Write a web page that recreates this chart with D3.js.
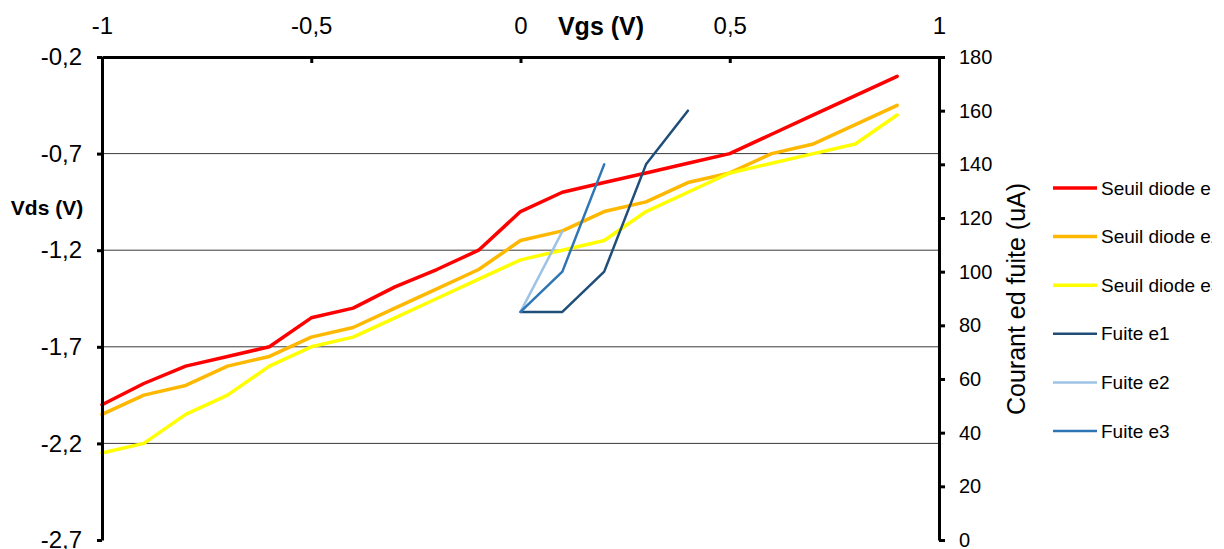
<!DOCTYPE html>
<html>
<head>
<meta charset="utf-8">
<script src="https://cdn.jsdelivr.net/npm/d3@7"></script>
<style>
  html, body { margin: 0; padding: 0; background: #fff; }
  svg { display: block; font-family: Arial, "Liberation Sans", sans-serif; }
</style>
</head>
<body>
<svg id="chart" width="1224" height="549"></svg>
<script>
// ---------- data ----------
const vgs = [-1, -0.9, -0.8, -0.7, -0.6, -0.5, -0.4, -0.3, -0.2, -0.1, 0, 0.1, 0.2, 0.3, 0.4, 0.5, 0.6, 0.7, 0.8, 0.9];
const seuilE1 = [-2.0, -1.89, -1.8, -1.75, -1.7, -1.55, -1.5, -1.39, -1.3, -1.2, -1.0, -0.9, -0.85, -0.8, -0.75, -0.7, -0.6, -0.5, -0.4, -0.3];
const seuilE2 = [-2.05, -1.95, -1.9, -1.8, -1.75, -1.65, -1.6, -1.5, -1.4, -1.3, -1.15, -1.1, -1.0, -0.95, -0.85, -0.8, -0.7, -0.65, -0.55, -0.45];
const seuilE3 = [-2.25, -2.2, -2.05, -1.95, -1.8, -1.7, -1.65, -1.55, -1.45, -1.35, -1.25, -1.2, -1.15, -1.0, -0.9, -0.8, -0.75, -0.7, -0.65, -0.5];
const fuiteX1 = [0, 0.1, 0.2, 0.3, 0.4];
const fuiteE1 = [85, 85, 100, 140, 160];
const fuiteX2 = [0, 0.1];
const fuiteE2 = [85, 115];
const fuiteX3 = [0, 0.1, 0.2];
const fuiteE3 = [85, 100, 140];
const xTicks = [-1, -0.5, 0, 0.5, 1];
const yLeftTicks = [-2.7, -2.2, -1.7, -1.2, -0.7, -0.2];
const yLeftGrid = [-2.2, -1.7, -1.2, -0.7];
const yRightTicks = [0, 20, 40, 60, 80, 100, 120, 140, 160, 180];
const seriesNames = ["Seuil diode e1", "Seuil diode e2", "Seuil diode e3", "Fuite e1", "Fuite e2", "Fuite e3"];
const seriesColors = ["#FF0000", "#FFB800", "#FFFF00", "#1F4E79", "#9DC3E6", "#2E75B6"];

// ---------- layout ----------
const svg = d3.select("#chart");
const L = 102, R = 939, T = 57, B = 540;
const x = d3.scaleLinear().domain([-1, 1]).range([L, R]);
const yL = d3.scaleLinear().domain([-2.7, -0.2]).range([B, T]);
const yR = d3.scaleLinear().domain([0, 180]).range([B, T]);
const fmt = d => String(d).replace('.', ',');

svg.append("defs").append("clipPath").attr("id", "legendClip")
  .append("rect").attr("x", 1000).attr("y", 0).attr("width", 212).attr("height", 549);

// gridlines
svg.append("g").selectAll("line").data(yLeftGrid).join("line")
  .attr("x1", L).attr("x2", R)
  .attr("y1", d => yL(d)).attr("y2", d => yL(d))
  .attr("stroke", "#3a3a3a").attr("stroke-width", 1);

// series
const diode = [seuilE1, seuilE2, seuilE3];
const lineL = d3.line().x(d => x(d[0])).y(d => yL(d[1]));
diode.forEach((s, i) => {
  svg.append("path")
    .datum(vgs.map((v, k) => [v, s[k]]))
    .attr("d", lineL)
    .attr("fill", "none")
    .attr("stroke", seriesColors[i])
    .attr("stroke-width", 3.5)
    .attr("stroke-linejoin", "round")
    .attr("stroke-linecap", "round");
});
const lineR = d3.line().x(d => x(d[0])).y(d => yR(d[1]));
const fuite = [[fuiteX1, fuiteE1], [fuiteX2, fuiteE2], [fuiteX3, fuiteE3]];
fuite.forEach((f, i) => {
  svg.append("path")
    .datum(f[0].map((v, k) => [v, f[1][k]]))
    .attr("d", lineR)
    .attr("fill", "none")
    .attr("stroke", seriesColors[i + 3])
    .attr("stroke-width", 2.5)
    .attr("stroke-linejoin", "round")
    .attr("stroke-linecap", "round");
});

// axes
function styleAxis(g, size) {
  g.select(".domain").attr("stroke", "#000").attr("stroke-width", 3);
  g.selectAll(".tick line").attr("stroke", "#000").attr("stroke-width", 3);
  g.selectAll(".tick text").attr("fill", "#000").style("font-size", size + "px")
    .style("font-family", "Arial, 'Liberation Sans', sans-serif");
}
const gTop = svg.append("g").attr("transform", `translate(0,${T})`)
  .call(d3.axisTop(x).tickValues(xTicks).tickFormat(fmt).tickSizeInner(-6).tickSizeOuter(0).tickPadding(23));
styleAxis(gTop, 24);

const gLeft = svg.append("g").attr("transform", `translate(${L},0)`)
  .call(d3.axisLeft(yL).tickValues(yLeftTicks).tickFormat(fmt).tickSizeInner(5).tickSizeOuter(0).tickPadding(15));
styleAxis(gLeft, 24);

const gRight = svg.append("g").attr("transform", `translate(${R},0)`)
  .call(d3.axisRight(yR).tickValues(yRightTicks).tickFormat(fmt).tickSizeInner(6).tickSizeOuter(0).tickPadding(14));
styleAxis(gRight, 20);

// axis titles
svg.append("text").attr("x", 601).attr("y", 35).attr("text-anchor", "middle")
  .style("font-weight", "bold").style("font-size", "25px").text("Vgs (V)");
svg.append("text").attr("x", 47).attr("y", 215).attr("text-anchor", "middle")
  .style("font-weight", "bold").style("font-size", "21px").text("Vds (V)");
svg.append("text").attr("transform", "translate(1025,299) rotate(-90)")
  .attr("text-anchor", "middle").style("font-size", "25px").text("Courant ed fuite (uA)");

// legend
const lg = svg.append("g").attr("clip-path", "url(#legendClip)");
seriesNames.forEach((n, i) => {
  const yy = 188 + i * 48.6;
  lg.append("line").attr("x1", 1053).attr("x2", 1097).attr("y1", yy).attr("y2", yy)
    .attr("stroke", seriesColors[i]).attr("stroke-width", i < 3 ? 3.5 : 2.5);
  lg.append("text").attr("x", 1101).attr("y", yy).attr("dy", "0.35em")
    .style("font-size", "19px").text(n);
});
</script>
</body>
</html>
